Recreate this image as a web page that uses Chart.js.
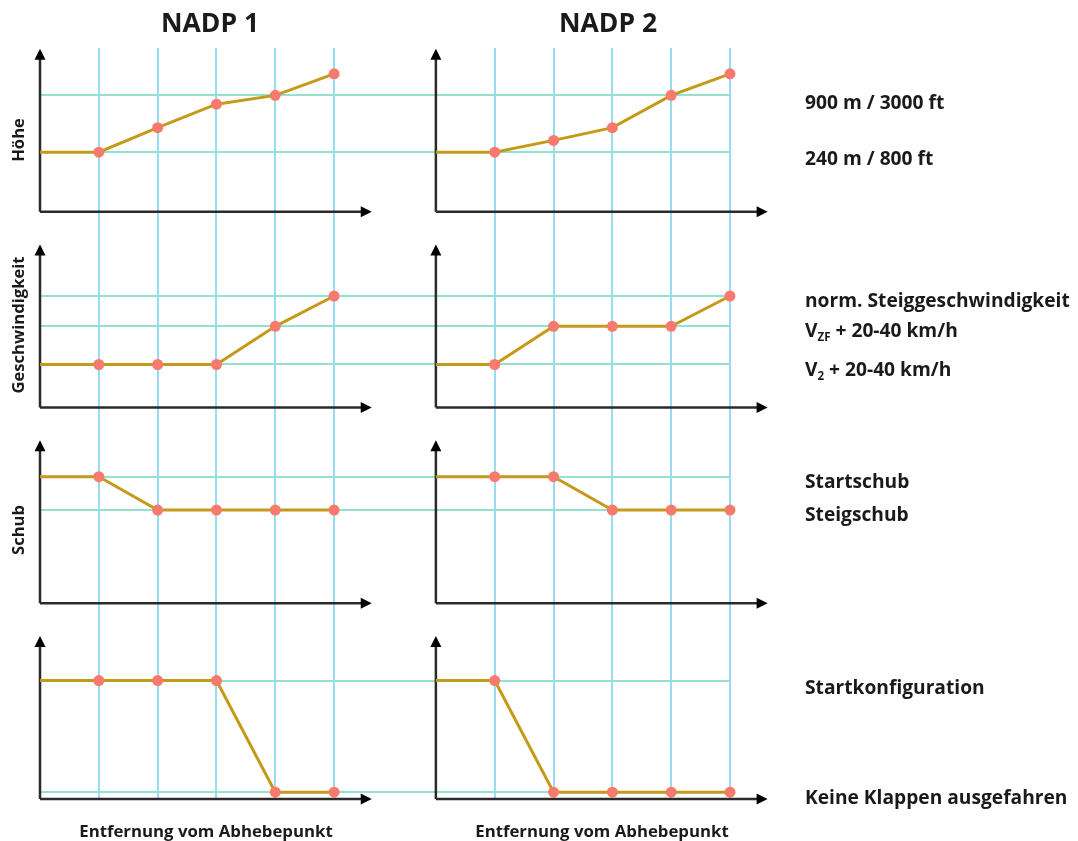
<!DOCTYPE html>
<html lang="de">
<head>
    <meta charset="UTF-8">
    <title>NADP 1 / NADP 2</title>
    <style>
        body {
            margin: 0;
            background: #fff;
            font-family: 'Open Sans', 'DejaVu Sans', sans-serif;
            font-weight: 700;
            color: #1a1a1a;
        }
        .wrap {
            position: relative;
            width: 1078px;
            height: 841px;
        }
        canvas {
            position: absolute;
            left: 0;
            top: 0;
        }
        .lbl {
            position: absolute;
            white-space: nowrap;
            line-height: 1;
            transform: translateY(-50%);
        }
        .title {
            font-size: 26.5px;
            transform: translate(-50%, -50%);
        }
        .side { font-size: 19.2px; left: 805px; }
        .bottom { font-size: 16.8px; transform: translate(-50%, -50%); }
        .ylab {
            font-size: 16.6px;
            transform: translate(-50%, -50%) rotate(-90deg);
        }
        sub { font-size: 0.6em; vertical-align: -0.35em; }
    </style>
    <script src="https://cdn.jsdelivr.net/npm/chart.js"></script>
</head>
<body>
<div class="wrap">
    <canvas id="nadp" width="1078" height="841"></canvas>

    <div class="lbl title" style="left:210px; top:22px">NADP 1</div>
    <div class="lbl title" style="left:608px; top:22px">NADP 2</div>

    <div class="lbl ylab" style="left:18px; top:140px">Höhe</div>
    <div class="lbl ylab" style="left:18px; top:325px">Geschwindigkeit</div>
    <div class="lbl ylab" style="left:18px; top:530px">Schub</div>

    <div class="lbl side" style="top:102px">900 m / 3000 ft</div>
    <div class="lbl side" style="top:158px">240 m / 800 ft</div>
    <div class="lbl side" style="top:300px">norm. Steiggeschwindigkeit</div>
    <div class="lbl side" style="top:331px">V<sub>ZF</sub> + 20-40 km/h</div>
    <div class="lbl side" style="top:370px">V<sub>2</sub> + 20-40 km/h</div>
    <div class="lbl side" style="top:481px">Startschub</div>
    <div class="lbl side" style="top:514px">Steigschub</div>
    <div class="lbl side" style="top:687px">Startkonfiguration</div>
    <div class="lbl side" style="top:797px">Keine Klappen ausgefahren</div>

    <div class="lbl bottom" style="left:206px; top:831px">Entfernung vom Abhebepunkt</div>
    <div class="lbl bottom" style="left:602px; top:831px">Entfernung vom Abhebepunkt</div>
</div>

<script>
    // Abschnitte entlang der Entfernung (0 = Abheben)
    const steps = [0, 1, 2, 3, 4, 5];

    // Höhe
    const hoeheLevels = [3.05, 5.95];
    const hoeheNadp1 = [3.05, 3.05, 4.3, 5.5, 5.95, 7.05];
    const hoeheNadp2 = [3.05, 3.05, 3.65, 4.3, 5.95, 7.05];

    // Geschwindigkeit
    const geschwLevels = [2.2, 4.15, 5.7];
    const geschwNadp1 = [2.2, 2.2, 2.2, 2.2, 4.15, 5.7];
    const geschwNadp2 = [2.2, 2.2, 4.15, 4.15, 4.15, 5.7];

    // Schub
    const schubLevels = [4.76, 6.47];
    const schubNadp1 = [6.47, 6.47, 4.76, 4.76, 4.76, 4.76];
    const schubNadp2 = [6.47, 6.47, 6.47, 4.76, 4.76, 4.76];

    // Klappen
    const klappenLevels = [0.35, 6.05];
    const klappenNadp1 = [6.05, 6.05, 6.05, 6.05, 0.35, 0.35];
    const klappenNadp2 = [6.05, 6.05, 0.35, 0.35, 0.35, 0.35];

    // layout: each row gets its own band on the y scale, NADP 2 is shifted right on x
    const ROW_BASE = [30, 20, 10, 0];
    const COL_BASE = [0, 6.73];
    const AXIS_Y_LEN = 8.33;
    const AXIS_X_LEN = 5.64;

    const rows = [
        { levels: hoeheLevels, series: [hoeheNadp1, hoeheNadp2] },
        { levels: geschwLevels, series: [geschwNadp1, geschwNadp2] },
        { levels: schubLevels, series: [schubNadp1, schubNadp2] },
        { levels: klappenLevels, series: [klappenNadp1, klappenNadp2] }
    ];

    const lineColor = '#c49a1a';
    const pointColor = '#f77a6c';

    const datasets = [];
    rows.forEach((row, r) => {
        row.series.forEach((vals, c) => {
            datasets.push({
                data: steps.map((s, i) => ({ x: COL_BASE[c] + s, y: ROW_BASE[r] + vals[i] })),
                borderColor: lineColor,
                borderWidth: 3,
                pointRadius: steps.map(s => s === 0 ? 0 : 5.5),
                pointBackgroundColor: pointColor,
                pointBorderWidth: 0,
                pointHoverRadius: 5.5,
                tension: 0,
                clip: false
            });
        });
    });

    const xGrid = [];
    COL_BASE.forEach(c => steps.slice(1).forEach(s => xGrid.push(c + s)));
    const yGrid = [];
    rows.forEach((row, r) => row.levels.forEach(l => yGrid.push(ROW_BASE[r] + l)));

    // black axes with arrow heads for every panel
    const axesArrows = {
        id: 'axesArrows',
        beforeDatasetsDraw(chart) {
            const ctx = chart.ctx;
            const xs = chart.scales.x, ys = chart.scales.y;
            ctx.save();
            ctx.strokeStyle = '#2b2b2b';
            ctx.fillStyle = '#000';
            ctx.lineWidth = 2.5;
            ROW_BASE.forEach(rb => {
                COL_BASE.forEach(cb => {
                    const x0 = xs.getPixelForValue(cb);
                    const y0 = ys.getPixelForValue(rb);
                    const yTop = ys.getPixelForValue(rb + AXIS_Y_LEN);
                    const xEnd = xs.getPixelForValue(cb + AXIS_X_LEN);
                    ctx.beginPath();
                    ctx.moveTo(x0, y0);
                    ctx.lineTo(x0, yTop + 8);
                    ctx.moveTo(x0, y0);
                    ctx.lineTo(xEnd - 8, y0);
                    ctx.stroke();
                    ctx.beginPath();
                    ctx.moveTo(x0, yTop);
                    ctx.lineTo(x0 - 5.5, yTop + 11);
                    ctx.lineTo(x0 + 5.5, yTop + 11);
                    ctx.closePath();
                    ctx.fill();
                    ctx.beginPath();
                    ctx.moveTo(xEnd, y0);
                    ctx.lineTo(xEnd - 11, y0 - 5.5);
                    ctx.lineTo(xEnd - 11, y0 + 5.5);
                    ctx.closePath();
                    ctx.fill();
                });
            });
            ctx.restore();
        }
    };

    new Chart(document.getElementById('nadp'), {
        type: 'line',
        data: { datasets },
        options: {
            responsive: false,
            animation: false,
            events: [],
            layout: { padding: { left: 40, top: 48, right: 348, bottom: 41 } },
            plugins: { legend: { display: false }, tooltip: { enabled: false } },
            scales: {
                x: {
                    type: 'linear',
                    min: 0,
                    max: COL_BASE[1] + 5,
                    bounds: 'data',
                    afterBuildTicks: axis => { axis.ticks = xGrid.map(v => ({ value: v })); },
                    ticks: { display: false },
                    border: { display: false },
                    grid: { color: '#97dcf2', lineWidth: 2, drawTicks: false }
                },
                y: {
                    type: 'linear',
                    min: -0.05,
                    max: 38.37,
                    bounds: 'data',
                    afterBuildTicks: axis => { axis.ticks = yGrid.map(v => ({ value: v })); },
                    ticks: { display: false },
                    border: { display: false },
                    grid: { color: '#94e1cf', lineWidth: 2, drawTicks: false }
                }
            }
        },
        plugins: [axesArrows]
    });
</script>
</body>
</html>
